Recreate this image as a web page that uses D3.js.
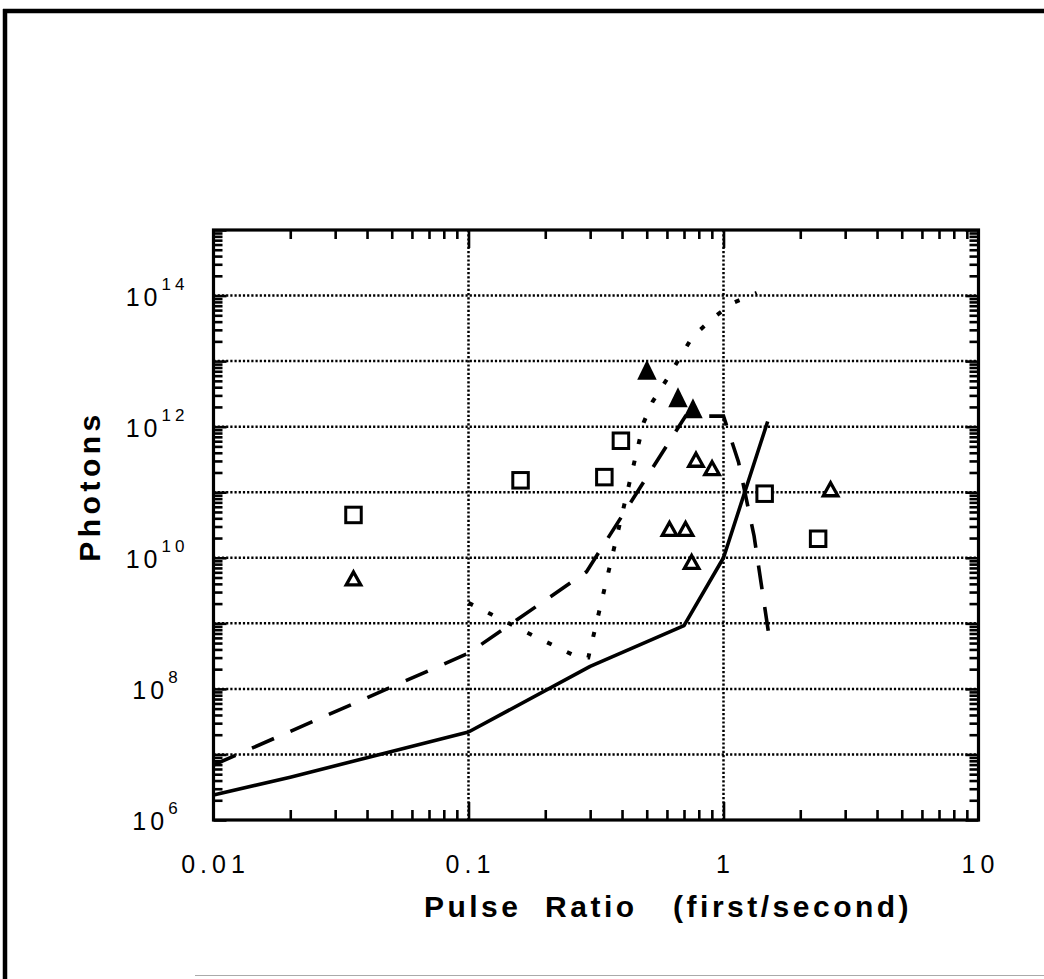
<!DOCTYPE html>
<html>
<head>
<meta charset="utf-8">
<script src="https://cdn.jsdelivr.net/npm/d3@7"></script>
<style>
  html, body { margin: 0; padding: 0; background: #fff; }
  svg { display: block; }
  text { font-family: "Liberation Sans", Arial, Helvetica, sans-serif; fill: #000; }
</style>
</head>
<body>
<svg id="chart" width="1044" height="979"></svg>
<script>
// ---------- data ----------
const xTickValues = [0.01, 0.1, 1, 10];
const xTickLabels = ["0.01", "0.1", "1", "10"];
const yTickExponents = [6, 8, 10, 12, 14];
const yGridExponents = [7, 8, 9, 10, 11, 12, 13, 14];
const xGridValues = [0.1, 1];

// solid line
const solidX = [0.01, 0.02, 0.1, 0.30, 0.70, 1.0, 1.49];
const solidY = [2.4e6, 4.5e6, 2.2e7, 2.2e8, 9.2e8, 1.0e10, 1.2e12];
// dashed line
const dashX = [0.01, 0.1, 0.29, 0.71, 1.0, 1.145, 1.318, 1.5];
const dashY = [6.9e6, 3.5e8, 6.1e9, 1.45e12, 1.45e12, 2.9e11, 2.15e10, 7.4e8];
// dotted line
const dotX = [0.1, 0.178, 0.27, 0.295, 0.486, 0.527, 0.598, 0.756, 0.914, 1.095, 1.35];
const dotY = [2.05e9, 6.6e8, 3.0e8, 3.0e8, 1.15e12, 2.4e12, 5.2e12, 2.36e13, 4.6e13, 7.8e13, 1.1e14];

// open squares
const squareX = [0.0354, 0.16, 0.341, 0.396, 1.45, 2.35];
const squareY = [4.5e10, 1.52e11, 1.7e11, 6.1e11, 9.5e10, 1.95e10];
// open triangles
const openTriX = [0.0354, 0.78, 0.902, 0.614, 0.71, 0.75, 2.63];
const openTriY = [5.1e9, 3.3e11, 2.45e11, 2.9e10, 2.9e10, 9.1e9, 1.17e11];
// filled triangles
const fillTriX = [0.501, 0.663, 0.759];
const fillTriY = [7.4e12, 2.8e12, 1.91e12];

const xTitle = "Pulse  Ratio   (first/second)";
const yTitle = "Photons";

// ---------- layout ----------
const svg = d3.select("#chart");
const L = 213.5, R = 978.5, T = 230, B = 820;

const x = d3.scaleLog().domain([0.01, 10]).range([L, R]);
const y = d3.scaleLog().domain([1e6, 1e15]).range([B, T]);

// outer frame
svg.append("line").attr("x1", 3).attr("x2", 1044).attr("y1", 11).attr("y2", 11)
  .attr("stroke", "#000").attr("stroke-width", 4.5);
svg.append("line").attr("x1", 5).attr("x2", 5).attr("y1", 9).attr("y2", 979)
  .attr("stroke", "#000").attr("stroke-width", 4.5);
svg.append("line").attr("x1", 195).attr("x2", 1044).attr("y1", 975.5).attr("y2", 975.5)
  .attr("stroke", "#aaa").attr("stroke-width", 1);

// tick value sets
function minorLog(lo, hi) {
  const out = [];
  for (let e = lo; e < hi; e++) {
    for (let k = 2; k <= 9; k++) out.push(k * Math.pow(10, e));
  }
  return out;
}
const xMinor = minorLog(-2, 1);
const yMinor = minorLog(6, 15);
const yMajor = d3.range(6, 16).map(e => Math.pow(10, e));

// grid
const grid = svg.append("g");
grid.selectAll(".hg").data(yGridExponents).join("line")
  .attr("x1", L).attr("x2", R)
  .attr("y1", d => y(Math.pow(10, d))).attr("y2", d => y(Math.pow(10, d)))
  .attr("stroke", "#000").attr("stroke-width", 2.5).attr("stroke-dasharray", "2.2,2");
grid.selectAll(".vg").data(xGridValues).join("line")
  .attr("x1", d => x(d)).attr("x2", d => x(d))
  .attr("y1", T).attr("y2", B)
  .attr("stroke", "#000").attr("stroke-width", 2.5).attr("stroke-dasharray", "2.2,2");

// axes ticks (inward)
function styleAxis(g) {
  g.select(".domain").remove();
  g.selectAll(".tick line").attr("stroke", "#000").attr("stroke-width", 2.6);
  g.selectAll(".tick text").remove();
}
svg.append("g").attr("transform", `translate(0,${B})`)
  .call(d3.axisBottom(x).tickValues(xMinor).tickSize(-10).tickFormat("")).call(styleAxis);
svg.append("g").attr("transform", `translate(0,${B})`)
  .call(d3.axisBottom(x).tickValues([0.1, 1]).tickSize(-18).tickFormat("")).call(styleAxis);
svg.append("g").attr("transform", `translate(0,${T})`)
  .call(d3.axisTop(x).tickValues(xMinor).tickSize(-9).tickFormat("")).call(styleAxis);
svg.append("g").attr("transform", `translate(0,${T})`)
  .call(d3.axisTop(x).tickValues([0.1, 1]).tickSize(-18).tickFormat("")).call(styleAxis);
svg.append("g").attr("transform", `translate(${L},0)`)
  .call(d3.axisLeft(y).tickValues(yMinor).tickSize(-9).tickFormat("")).call(styleAxis);
svg.append("g").attr("transform", `translate(${L},0)`)
  .call(d3.axisLeft(y).tickValues(yMajor).tickSize(-13).tickFormat("")).call(styleAxis);
svg.append("g").attr("transform", `translate(${R},0)`)
  .call(d3.axisRight(y).tickValues(yMinor).tickSize(-9).tickFormat("")).call(styleAxis);
svg.append("g").attr("transform", `translate(${R},0)`)
  .call(d3.axisRight(y).tickValues(yMajor).tickSize(-13).tickFormat("")).call(styleAxis);

// plot box
svg.append("rect").attr("x", L).attr("y", T).attr("width", R - L).attr("height", B - T)
  .attr("fill", "none").attr("stroke", "#000").attr("stroke-width", 3.2);

// lines
const line = d3.line().x(d => x(d[0])).y(d => y(d[1]));
const zip = (a, b) => a.map((v, i) => [v, b[i]]);
svg.append("path").datum(zip(solidX, solidY)).attr("d", line)
  .attr("fill", "none").attr("stroke", "#000").attr("stroke-width", 3.6).attr("stroke-linejoin", "round");
svg.append("path").datum(zip(dashX, dashY)).attr("d", line)
  .attr("fill", "none").attr("stroke", "#000").attr("stroke-width", 3.6)
  .attr("stroke-dasharray", "24,18").attr("stroke-linejoin", "miter");
svg.append("path").datum(zip(dotX, dotY)).attr("d", line)
  .attr("fill", "none").attr("stroke", "#000").attr("stroke-width", 4)
  .attr("stroke-dasharray", "5,17");

// markers
const sqSide = 15.5;
svg.append("g").selectAll("rect").data(zip(squareX, squareY)).join("rect")
  .attr("x", d => x(d[0]) - sqSide / 2).attr("y", d => y(d[1]) - sqSide / 2)
  .attr("width", sqSide).attr("height", sqSide)
  .attr("fill", "#fff").attr("stroke", "#000").attr("stroke-width", 3);

function triPath(w, h) {
  return `M0,${-h / 2}L${w / 2},${h / 2}L${-w / 2},${h / 2}Z`;
}
svg.append("g").selectAll("path").data(zip(openTriX, openTriY)).join("path")
  .attr("transform", d => `translate(${x(d[0])},${y(d[1]) + 1.5})`)
  .attr("d", triPath(14.5, 13))
  .attr("fill", "#fff").attr("stroke", "#000").attr("stroke-width", 3.3).attr("stroke-linejoin", "miter");
svg.append("g").selectAll("path").data(zip(fillTriX, fillTriY)).join("path")
  .attr("transform", d => `translate(${x(d[0])},${y(d[1])})`)
  .attr("d", triPath(19.5, 20))
  .attr("fill", "#000").attr("stroke", "none");

// x tick labels
svg.append("g").selectAll("text").data(xTickValues).join("text")
  .attr("x", d => x(d) + 2).attr("y", 873)
  .attr("text-anchor", "middle")
  .style("font-size", "25px").style("letter-spacing", "5px")
  .text((d, i) => xTickLabels[i]);

// y tick labels with superscripts
const yl = svg.append("g").selectAll("text").data(yTickExponents).join("text")
  .attr("x", 157).attr("y", d => y(Math.pow(10, d)) + 10)
  .attr("text-anchor", "middle")
  .style("font-size", "25px").style("letter-spacing", "4px");
yl.append("tspan").text("10");
yl.append("tspan").attr("dy", -16).style("font-size", "17px").text(d => String(d));

// axis titles
svg.append("text").attr("x", 668).attr("y", 917).attr("text-anchor", "middle")
  .attr("xml:space", "preserve").style("white-space", "pre")
  .style("font-size", "30px").style("font-weight", "bold").style("letter-spacing", "3.5px")
  .text(xTitle);
svg.append("text").attr("transform", "translate(100,486) rotate(-90)").attr("text-anchor", "middle")
  .style("font-size", "30px").style("font-weight", "bold").style("letter-spacing", "4.5px")
  .text(yTitle);
</script>
</body>
</html>
